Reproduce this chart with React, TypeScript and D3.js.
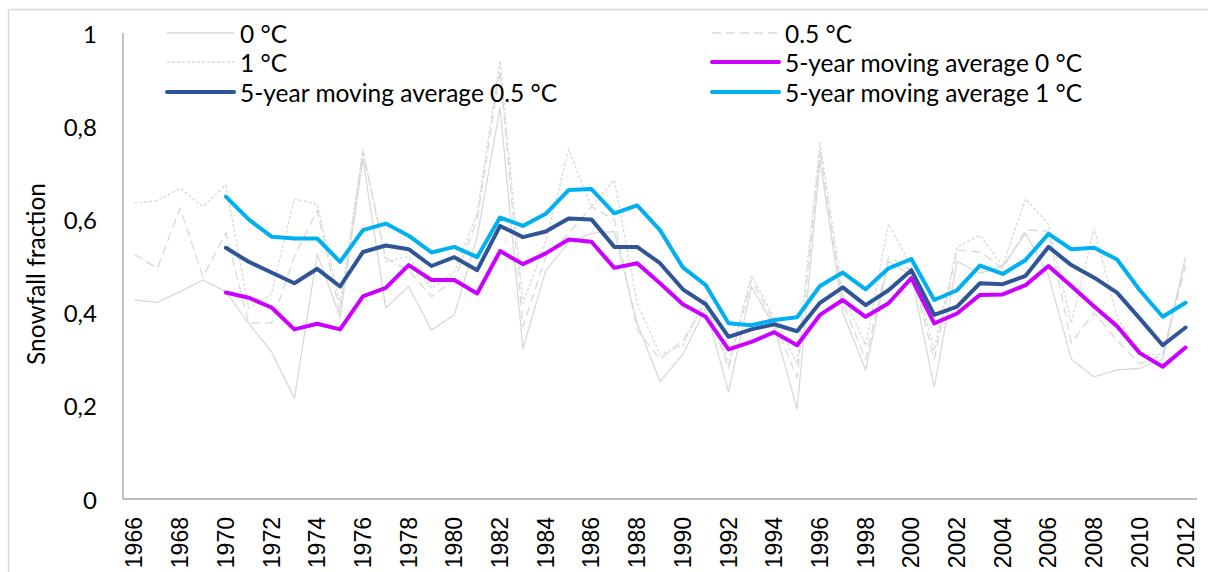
import React from "react";
import * as d3 from "d3";

// Years on the category axis
const years: number[] = d3.range(1966, 2013);

// Annual snowfall fraction for three rain/snow threshold temperatures
const snow0: number[] = [
  0.427, 0.422, 0.445, 0.47, 0.445, 0.377, 0.316, 0.216, 0.526, 0.39,
  0.73, 0.41, 0.456, 0.363, 0.395, 0.563, 0.84, 0.323, 0.49, 0.55,
  0.57, 0.574, 0.377, 0.252, 0.31, 0.41, 0.23, 0.456, 0.37, 0.193,
  0.727, 0.4, 0.277, 0.51, 0.48, 0.24, 0.51, 0.484, 0.5, 0.57,
  0.48, 0.3, 0.262, 0.277, 0.28, 0.3, 0.52,
];
const snow05: number[] = [
  0.525, 0.495, 0.624, 0.477, 0.571, 0.378, 0.378, 0.52, 0.62, 0.4,
  0.745, 0.517, 0.491, 0.434, 0.47, 0.6, 0.92, 0.37, 0.52, 0.57,
  0.627, 0.6, 0.363, 0.3, 0.34, 0.42, 0.28, 0.47, 0.38, 0.26,
  0.75, 0.42, 0.3, 0.52, 0.49, 0.3, 0.534, 0.53, 0.495, 0.577,
  0.575, 0.335, 0.4, 0.34, 0.29, 0.31, 0.5,
];
const snow1: number[] = [
  0.635, 0.64, 0.667, 0.627, 0.674, 0.409, 0.441, 0.644, 0.633, 0.42,
  0.75, 0.509, 0.52, 0.452, 0.487, 0.614, 0.94, 0.42, 0.552, 0.75,
  0.627, 0.685, 0.42, 0.31, 0.33, 0.43, 0.29, 0.48, 0.39, 0.29,
  0.765, 0.44, 0.33, 0.59, 0.5, 0.32, 0.541, 0.566, 0.5, 0.644,
  0.59, 0.377, 0.581, 0.39, 0.31, 0.31, 0.515,
];

// 5-year moving averages, available from 1970 onwards
const maYears: number[] = d3.range(1970, 2013);
const ma0: number[] = [
  0.443, 0.432, 0.411, 0.364, 0.376, 0.364, 0.435, 0.453, 0.502, 0.47,
  0.47, 0.441, 0.532, 0.504, 0.527, 0.557, 0.552, 0.496, 0.506, 0.463,
  0.418, 0.391, 0.321, 0.337, 0.358, 0.33, 0.395, 0.427, 0.391, 0.42,
  0.474, 0.377, 0.398, 0.438, 0.439, 0.459, 0.5, 0.457, 0.413, 0.371,
  0.313, 0.284, 0.325,
];
const ma05: number[] = [
  0.539, 0.509, 0.486, 0.463, 0.494, 0.456, 0.53, 0.544, 0.536, 0.5,
  0.519, 0.491, 0.586, 0.562, 0.574, 0.602, 0.6, 0.541, 0.541, 0.506,
  0.45, 0.418, 0.348, 0.364, 0.375, 0.36, 0.421, 0.454, 0.416, 0.448,
  0.491, 0.395, 0.413, 0.463, 0.461, 0.479, 0.541, 0.502, 0.475, 0.443,
  0.387, 0.33, 0.368,
];
const ma1: number[] = [
  0.649, 0.6, 0.563, 0.559, 0.559, 0.509, 0.577, 0.591, 0.565, 0.529,
  0.541, 0.519, 0.604, 0.586, 0.612, 0.663, 0.665, 0.613, 0.63, 0.577,
  0.497, 0.459, 0.377, 0.373, 0.384, 0.39, 0.457, 0.486, 0.45, 0.495,
  0.515, 0.427, 0.448, 0.501, 0.483, 0.513, 0.569, 0.536, 0.539, 0.514,
  0.448, 0.391, 0.421,
];

const yTicks: number[] = [0, 0.2, 0.4, 0.6, 0.8, 1];
const xTickYears: number[] = years.filter((y) => (y - 1966) % 2 === 0);

type Series = {
  name: string;
  xs: number[];
  values: number[];
  color: string;
  width: number;
  dash?: string;
};

const series: Series[] = [
  { name: "0 °C", xs: years, values: snow0, color: "#d9d9d9", width: 1.3 },
  { name: "0.5 °C", xs: years, values: snow05, color: "#d9d9d9", width: 1.3, dash: "9,5" },
  { name: "1 °C", xs: years, values: snow1, color: "#d9d9d9", width: 1.3, dash: "3,2" },
  { name: "5-year moving average 0 °C", xs: maYears, values: ma0, color: "#cc00ff", width: 4 },
  { name: "5-year moving average 0.5 °C", xs: maYears, values: ma05, color: "#2f5597", width: 4 },
  { name: "5-year moving average 1 °C", xs: maYears, values: ma1, color: "#00b0f0", width: 4 },
];

const W = 1208;
const H = 572;
const plotLeft = 123;
const plotRight = 1197;
const plotTop = 33;
const plotBottom = 499;
const textFont = "Lato, 'Noto Sans', sans-serif";

export default function App() {
  const x = d3
    .scalePoint<number>()
    .domain(years)
    .range([plotLeft, plotRight])
    .padding(0.5);
  const y = d3.scaleLinear().domain([0, 1]).range([plotBottom, plotTop]);

  const lineFor = (s: Series) =>
    d3
      .line<number>()
      .x((_, i) => x(s.xs[i]) as number)
      .y((v) => y(v))(s.values) || "";

  const fmt = (v: number) => (v === 0 || v === 1 ? String(v) : v.toFixed(1).replace(".", ","));

  // Legend laid out in two columns, filled row by row
  const legendCols = [167, 712];
  const legendRows = [33, 62, 92];

  return (
    <svg
      width={W}
      height={H}
      style={{ position: "absolute", left: 0, top: 0, background: "#fff" }}
    >
      <rect x={8.5} y={9.5} width={1210} height={600} fill="#fff" stroke="#d9d9d9" strokeWidth={1.5} />

      {/* axes */}
      <line x1={plotLeft} x2={plotLeft} y1={plotTop} y2={plotBottom} stroke="#a6a6a6" strokeWidth={1.3} />
      <line x1={plotLeft} x2={plotRight} y1={plotBottom} y2={plotBottom} stroke="#a6a6a6" strokeWidth={1.3} />

      {yTicks.map((t) => (
        <text
          key={t}
          x={97}
          y={y(t)}
          textAnchor="end"
          dominantBaseline="central"
          fontFamily={textFont}
          fontSize={24}
          fill="#000"
        >
          {fmt(t)}
        </text>
      ))}

      {xTickYears.map((yr) => (
        <text
          key={yr}
          transform={`translate(${x(yr)},517) rotate(-90)`}
          textAnchor="end"
          dominantBaseline="central"
          fontFamily="'Liberation Sans', Arial, sans-serif"
          fontSize={23}
          fill="#000"
        >
          {yr}
        </text>
      ))}

      <text
        transform="translate(35,274) rotate(-90)"
        textAnchor="middle"
        dominantBaseline="central"
        fontFamily={textFont}
        fontSize={24.5}
        fill="#000"
      >
        Snowfall fraction
      </text>

      {/* data lines */}
      {series.map((s) => (
        <path
          key={s.name}
          d={lineFor(s)}
          fill="none"
          stroke={s.color}
          strokeWidth={s.width}
          strokeDasharray={s.dash}
          strokeLinejoin="round"
          strokeLinecap={s.width > 2 ? "round" : "butt"}
        />
      ))}

      {/* legend */}
      {series.map((s, i) => {
        const cx = legendCols[i % 2];
        const cy = legendRows[Math.floor(i / 2)];
        return (
          <g key={s.name}>
            <line
              x1={cx}
              x2={cx + 67}
              y1={cy}
              y2={cy}
              stroke={s.color}
              strokeWidth={s.width}
              strokeDasharray={s.dash}
              strokeLinecap={s.width > 2 ? "round" : "butt"}
            />
            <text
              x={cx + 73}
              y={cy}
              dominantBaseline="central"
              fontFamily={textFont}
              fontSize={24.5}
              fill="#000"
            >
              {s.name}
            </text>
          </g>
        );
      })}
    </svg>
  );
}
